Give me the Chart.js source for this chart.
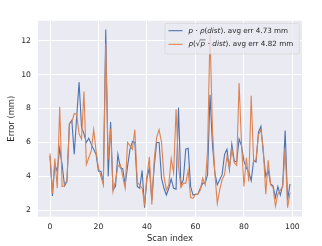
<!DOCTYPE html>
<html>
<head>
<meta charset="utf-8">
<script src="https://cdn.jsdelivr.net/npm/chart.js@4.4.1/dist/chart.umd.min.js"></script>
<style>
html,body{margin:0;padding:0;background:#fff;}
canvas{display:block;}
</style>
</head>
<body>
<canvas id="c" width="322" height="246" style="width:322px;height:246px"></canvas>
<script>
const blueValues = [5.2,2.85,4.7,4.3,5.65,4.7,3.45,3.7,7.1,7.3,
  5.3,7.5,9.55,6.9,6.5,6.0,6.25,5.9,5.6,5.3,
  4.3,4.3,3.6,12.65,4.0,7.2,3.2,3.4,5.3,4.5,
  4.45,3.5,4.6,5.6,6.05,6.0,3.4,3.3,4.35,2.15,
  3.9,4.5,2.6,4.6,6.0,6.0,3.9,3.3,2.9,3.3,
  3.85,3.3,3.25,8.05,3.5,3.8,5.6,5.65,3.4,2.9,
  2.95,2.95,3.3,3.6,3.6,4.1,8.8,5.9,4.2,3.5,
  3.8,4.1,5.3,5.6,4.4,5.9,4.9,4.85,6.2,5.8,
  4.9,4.5,4.25,3.75,4.95,4.85,6.6,6.95,5.35,4.0,
  4.35,3.55,3.45,2.75,3.4,2.9,3.5,6.7,2.6,3.55];
const orangeValues = [5.35,3.0,5.05,3.3,8.1,3.4,3.45,3.8,7.1,7.2,
  7.7,7.65,6.5,6.2,9.0,4.7,5.1,5.5,6.75,5.5,
  4.5,4.0,3.5,11.8,5.0,6.8,3.1,3.7,4.6,4.7,
  4.0,3.3,6.0,5.8,5.6,6.75,3.65,3.5,3.3,2.4,
  4.0,5.15,2.35,5.0,6.3,6.75,6.0,4.0,3.2,3.5,
  5.05,4.2,7.95,4.6,3.35,3.6,3.6,4.35,2.75,2.7,
  2.95,2.95,3.2,3.9,3.5,5.5,12.5,6.8,4.2,2.4,
  3.2,3.8,4.1,5.2,4.5,5.6,4.8,4.65,9.5,5.9,
  3.4,5.1,3.7,8.75,4.85,5.0,6.45,6.75,5.6,2.95,
  4.95,3.5,3.35,2.25,2.95,3.2,3.4,5.65,2.15,3.05];
const scanIndex = blueValues.map((_, i) => i);
const xTickValues = [0, 20, 40, 60, 80, 100];
const yTickValues = [2, 4, 6, 8, 10, 12];
const seriesNames = ['blue', 'orange'];

const BLUE = '#4C72B0', ORANGE = '#DD8452';
const FONT = '"DejaVu Sans", sans-serif';
const TEXT = '#262626';
const LFS = 7.2;

const bgPlugin = {
  id: 'bg',
  beforeDraw(chart) {
    const {ctx, chartArea: a} = chart;
    ctx.save();
    ctx.fillStyle = '#EAEAF2';
    ctx.fillRect(a.left, a.top, a.right - a.left, a.bottom - a.top);
    ctx.restore();
  }
};

function drawSegs(ctx, x, y, segs) {
  for (const s of segs) {
    ctx.font = (s.i ? 'italic ' : '') + LFS + 'px ' + FONT;
    if (s.sqrt) {
      ctx.font = LFS + 'px ' + FONT;
      const rw = ctx.measureText('\u221A').width;
      ctx.fillText('\u221A', x, y);
      x += rw;
      ctx.font = 'italic ' + LFS + 'px ' + FONT;
      const w = ctx.measureText(s.t).width;
      ctx.fillText(s.t, x, y);
      ctx.save();
      ctx.strokeStyle = TEXT; ctx.lineWidth = 0.6;
      ctx.beginPath(); ctx.moveTo(x - 0.5, y - 4.7); ctx.lineTo(x + w + 0.5, y - 4.7); ctx.stroke();
      ctx.restore();
      x += w + 0.5;
      continue;
    }
    ctx.fillText(s.t, x, y);
    x += ctx.measureText(s.t).width;
  }
  return x;
}

const legendPlugin = {
  id: 'mlegend',
  afterDraw(chart) {
    const {ctx} = chart;
    const bx = 165, by = 23.3, bw = 134.3, bh = 30.7, r = 2;
    ctx.save();
    ctx.beginPath();
    ctx.roundRect(bx, by, bw, bh, r);
    ctx.fillStyle = 'rgba(234,234,242,0.8)';
    ctx.fill();
    ctx.strokeStyle = 'rgba(204,204,204,0.8)';
    ctx.lineWidth = 0.7;
    ctx.stroke();
    const rows = [
      {y: 30.7, c: BLUE, segs: [{t:'p', i:1},{t:' \u00B7 '},{t:'\u03C1', i:1},{t:'('},{t:'dist', i:1},{t:'). avg err 4.73 mm'}]},
      {y: 44.3, c: ORANGE, segs: [{t:'\u03C1', i:1},{t:'('},{t:'p', sqrt:1},{t:' \u00B7 '},{t:'dist', i:1},{t:'). avg err 4.82 mm'}]}
    ];
    ctx.textBaseline = 'middle';
    for (const row of rows) {
      ctx.strokeStyle = row.c; ctx.lineWidth = 1.1;
      ctx.beginPath(); ctx.moveTo(168.5, row.y); ctx.lineTo(182.5, row.y); ctx.stroke();
      ctx.fillStyle = TEXT;
      drawSegs(ctx, 188.5, row.y + 0.3, row.segs);
    }
    ctx.restore();
  }
};

new Chart(document.getElementById('c'), {
  type: 'line',
  data: {
    datasets: [
      {label: seriesNames[0], data: blueValues.map((v, i) => ({x: scanIndex[i], y: v})),
       borderColor: BLUE, borderWidth: 1.1, pointRadius: 0, tension: 0, fill: false, order: 1},
      {label: seriesNames[1], data: orangeValues.map((v, i) => ({x: scanIndex[i], y: v})),
       borderColor: ORANGE, borderWidth: 1.1, pointRadius: 0, tension: 0, fill: false, order: 0}
    ]
  },
  options: {
    responsive: false, animation: false, devicePixelRatio: 1,
    layout: {padding: {left: 0, right: 20, top: 20.7, bottom: 0}},
    plugins: {legend: {display: false}, tooltip: {enabled: false}},
    scales: {
      x: {
        type: 'linear', min: -4.95, max: 103.95,
        afterBuildTicks(s) { s.ticks = xTickValues.map(v => ({value: v})); },
        afterFit(s) { s.height = 29.3; },
        grid: {color: '#ffffff', lineWidth: 1, drawTicks: false},
        border: {display: false},
        ticks: {font: {family: FONT, size: 7.7}, color: TEXT, padding: 6, maxRotation: 0},
        title: {display: true, text: 'Scan index', font: {family: FONT, size: 8.4}, color: TEXT, padding: {top: 0, bottom: 2}}
      },
      y: {
        type: 'linear', min: 1.625, max: 13.17,
        afterBuildTicks(s) { s.ticks = yTickValues.map(v => ({value: v})); },
        afterFit(s) { s.width = 38; },
        grid: {color: '#ffffff', lineWidth: 1, drawTicks: false},
        border: {display: false},
        ticks: {font: {family: FONT, size: 7.7}, color: TEXT, padding: 7},
        title: {display: true, text: 'Error (mm)', font: {family: FONT, size: 8.4}, color: TEXT, padding: {top: 7, bottom: 0}}
      }
    }
  },
  plugins: [bgPlugin, legendPlugin]
});
</script>
</body>
</html>
